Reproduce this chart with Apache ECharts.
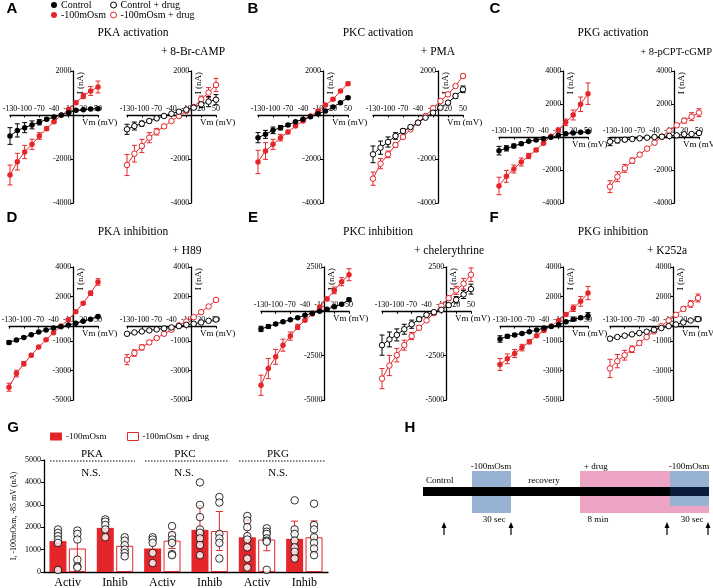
<!DOCTYPE html>
<html><head><meta charset="utf-8">
<script src="https://cdn.jsdelivr.net/npm/echarts@6/dist/echarts.min.js"></script>
<style>html,body{margin:0;padding:0;background:#fff}#c{width:713px;height:588px}</style>
</head><body><div id="c"></div>
<script>
// ---------- DATA ----------
const voltages = [-130,-115,-100,-85,-70,-55,-40,-25,-10,5,20,35,50];

// A: PKA activation (+ 8-Br-cAMP)
const A_ctrl = [-955,-700,-575,-450,-330,-197,-90,0,105,212,242,273,288];
const A_ctrlErr = [380,300,230,180,120,60,40,30,30,30,30,30,40];
const A_osm = [-2727,-2121,-1682,-1333,-955,-621,-303,-15,258,561,864,1091,1273];
const A_osmErr = [450,380,300,230,150,80,50,40,40,60,120,200,270];
const A_ctrlDrug = [-650,-500,-394,-273,-152,-45,60,150,240,333,485,606,697];
const A_ctrlDrugErr = [230,180,120,80,60,40,30,30,40,80,150,230,230];
const A_osmDrug = [-2273,-1758,-1409,-1030,-758,-515,-273,-45,182,364,712,1015,1364];
const A_osmDrugErr = [480,380,300,230,150,80,50,40,50,80,150,230,300];

// B: PKC activation (+ PMA)
const B_ctrl = [-1030,-879,-697,-576,-455,-303,-197,-76,61,182,364,561,788];
const B_ctrlErr = [230,180,150,100,60,40,30,30,30,30,40,50,60];
const B_osm = [-2136,-1636,-1333,-1030,-773,-500,-273,-45,182,455,712,1091,1424];
const B_osmErr = [530,380,230,150,80,50,40,30,30,40,50,60,80];
const B_ctrlDrug = [-1788,-1485,-1227,-955,-727,-545,-348,-121,106,333,561,864,1167];
const B_ctrlDrugErr = [380,300,230,150,100,60,40,30,30,40,60,100,150];
const B_osmDrug = [-2894,-2212,-1788,-1364,-1000,-652,-348,-45,303,636,939,1318,1773];
const B_osmDrugErr = [300,230,150,100,60,40,30,30,30,40,50,60,80];

// C: PKG activation (+ 8-pCPT-cGMP)
const C_ctrl = [-828,-687,-545,-404,-263,-182,-101,-20,101,202,242,283,323];
const C_ctrlErr = [260,160,120,80,60,40,30,30,30,30,40,50,60];
const C_osm = [-2970,-2384,-1939,-1515,-1152,-788,-384,40,424,889,1333,1980,2626];
const C_osmErr = [530,360,240,240,160,100,60,60,100,200,300,440,650];
const C_ctrlDrug = [-283,-202,-162,-121,-81,-40,0,20,61,101,162,182,242];
const C_ctrlDrugErr = [240,160,120,80,60,40,30,30,30,40,60,80,100];
const C_osmDrug = [-3010,-2404,-1899,-1434,-1071,-707,-343,20,384,707,990,1232,1475];
const C_osmDrugErr = [360,300,240,160,100,60,40,30,40,80,150,240,240];

// D: PKA inhibition (+ H89)
const D_ctrl = [-1101,-944,-764,-584,-404,-270,-135,-45,67,202,337,472,652];
const D_ctrlErr = [120,90,70,50,40,30,30,30,30,30,40,60,90];
const D_osm = [-4135,-3213,-2539,-1978,-1416,-921,-449,0,427,966,1551,2225,2989];
const D_osmErr = [270,220,150,100,80,60,50,40,50,60,100,150,220];
const D_ctrlDrug = [-517,-427,-360,-292,-225,-157,-90,0,90,157,247,360,449];
const D_ctrlDrugErr = [60,50,40,30,30,30,30,30,30,30,40,50,60];
const D_osmDrug = [-2270,-1820,-1438,-1101,-809,-517,-247,45,315,607,944,1326,1775];
const D_osmDrugErr = [340,220,180,120,80,60,40,30,40,50,60,80,100];

// E: PKC inhibition (+ chelerythrine)
const E_ctrl = [-991,-858,-708,-594,-481,-368,-217,-104,9,123,255,406,651];
const E_ctrlErr = [150,100,80,60,50,40,30,30,30,40,60,80,100];
const E_osm = [-4170,-3226,-2566,-1906,-1396,-877,-500,-150,250,700,1180,1670,2066];
const E_osmErr = [570,570,420,340,230,150,80,50,60,100,190,230,340];
const E_ctrlDrug = [-1906,-1585,-1330,-1009,-726,-443,-198,-47,85,349,651,953,1255];
const E_ctrlDrugErr = [570,420,340,280,230,120,60,40,50,100,180,230,280];
const E_osmDrug = [-3792,-3057,-2472,-1906,-1396,-925,-509,-104,311,745,1179,1557,2066];
const E_osmDrugErr = [570,570,380,280,200,120,60,40,60,120,230,300,380];

// F: PKG inhibition (+ K252a)
const F_ctrl = [-872,-694,-604,-492,-380,-268,-134,-22,89,291,470,559,694];
const F_ctrlErr = [220,120,100,60,40,30,30,30,30,40,60,100,220];
const F_osm = [-2595,-2215,-1857,-1454,-1051,-649,-291,0,380,783,1208,1678,2237];
const F_osmErr = [400,330,270,220,150,80,50,40,50,100,220,330,450];
const F_ctrlDrug = [-850,-738,-649,-559,-470,-380,-246,-134,0,112,246,380,470];
const F_ctrlDrugErr = [100,60,50,40,30,30,30,30,30,30,40,50,60];
const F_osmDrug = [-2864,-2371,-1969,-1566,-1141,-738,-358,0,380,761,1163,1499,1902];
const F_osmDrugErr = [620,450,330,220,150,100,60,40,50,80,150,220,270];

// G: bar chart
const gCategories = ['Activ','Inhib','Activ','Inhib','Activ','Inhib'];
const gGroups = ['PKA','PKC','PKG'];
const gMeans = [1380,1970,1050,1880,1550,1480];
const gSD = [450,220,450,1070,750,790];
const gMeansDrug = [1050,1170,1400,1830,1450,1550];
const gSDDrug = [700,280,350,870,500,730];
const gPoints = [
  [1900,1750,1600,1450,1300,90],
  [2350,2250,2100,1900,1550],
  [1550,1450,1300,850,400],
  [4000,3000,2450,1900,1750,1500,1200,750],
  [2500,2300,2000,1600,1450,1100,600,200],
  [3200,1900,1700,1400,1100,900,600]
];
const gPointsDrug = [
  [1850,1700,1450,550,250,200],
  [1550,1400,1200,1000,850,700],
  [2050,1650,1450,1300,800,750],
  [3350,3100,1700,1500,1300,600],
  [1950,1800,1700,1500,1400,1350,100],
  [3050,2100,1900,1550,1300,1050,750]
];

// H: protocol schematic (schematic time units)
const hRecording = [[0,247],[247,286]];
const hOsmWindows = [[49,88],[247,286]];
const hDrugWindows = [[157,286]];
const hArrowTimes = [21,88,244,285];

// ---------- STYLE / LAYOUT ----------
const RED = '#e4262b';
const SERIF = '"Liberation Serif","Times New Roman",serif';
const SANS = '"Liberation Sans",Arial,sans-serif';
const X_MIN = -130, X_MAX = 50;

const yScales = {
  AB: {min:-4000,max:2000,interval:2000},
  C: {min:-4000,max:4000,interval:2000},
  DF: {min:-5000,max:4000,custom:[4000,2000,-1000,-3000,-5000]},
  E: {min:-5000,max:2500,interval:2500}
};
const ivPanels = [
  {top:71,bottom:203,L:[10,98],R:[127,216],y:yScales.AB,d:[A_ctrl,A_ctrlErr,A_osm,A_osmErr,A_ctrlDrug,A_ctrlDrugErr,A_osmDrug,A_osmDrugErr]},
  {top:71,bottom:203,L:[258,348],R:[373,463],y:yScales.AB,d:[B_ctrl,B_ctrlErr,B_osm,B_osmErr,B_ctrlDrug,B_ctrlDrugErr,B_osmDrug,B_osmDrugErr]},
  {top:71,bottom:203,L:[499,588],R:[610,699],y:yScales.C,d:[C_ctrl,C_ctrlErr,C_osm,C_osmErr,C_ctrlDrug,C_ctrlDrugErr,C_osmDrug,C_osmDrugErr]},
  {top:267,bottom:400,L:[9,98],R:[127,216],y:yScales.DF,d:[D_ctrl,D_ctrlErr,D_osm,D_osmErr,D_ctrlDrug,D_ctrlDrugErr,D_osmDrug,D_osmDrugErr]},
  {top:267,bottom:400,L:[261,349],R:[382,471],y:yScales.E,d:[E_ctrl,E_ctrlErr,E_osm,E_osmErr,E_ctrlDrug,E_ctrlDrugErr,E_osmDrug,E_osmDrugErr]},
  {top:267,bottom:400,L:[500,588],R:[610,698],y:yScales.DF,d:[F_ctrl,F_ctrlErr,F_osm,F_osmErr,F_ctrlDrug,F_ctrlDrugErr,F_osmDrug,F_osmDrugErr]}
];

const grids = [], xAxes = [], yAxes = [], series = [];

function errRender(color, cap) {
  return function (params, api) {
    const x = api.value(0), y = api.value(1), e = api.value(2);
    const hi = api.coord([x, y + e]), lo = api.coord([x, y - e]);
    const st = {stroke: color, lineWidth: 1, fill: null};
    return {type: 'group', children: [
      {type: 'line', shape: {x1: hi[0], y1: hi[1], x2: lo[0], y2: lo[1]}, style: st},
      {type: 'line', shape: {x1: hi[0] - cap, y1: hi[1], x2: hi[0] + cap, y2: hi[1]}, style: st},
      {type: 'line', shape: {x1: lo[0] - cap, y1: lo[1], x2: lo[0] + cap, y2: lo[1]}, style: st}
    ]};
  };
}

function addIV(gi, x0, x1, top, bottom, ys, ctrl, ctrlErr, osm, osmErr, drug) {
  const w = x1 - x0, h = bottom - top;
  grids.push({left: x0, top: top, width: w, height: h, containLabel: false, outerBoundsMode: 'none'});
  // axes cross at the origin: shift each axis from the grid edge to the zero of the other scale
  const xOffset = -h * (0 - ys.min) / (ys.max - ys.min);
  const yOffset = -w * (0 - X_MIN) / (X_MAX - X_MIN);
  xAxes.push({gridIndex: gi, type: 'value', min: X_MIN, max: X_MAX, interval: 30, position: 'bottom', offset: xOffset,
    axisLine: {onZero: false, lineStyle: {color: '#000', width: 1.3}},
    axisTick: {show: true, length: 2.5, lineStyle: {color: '#000'}},
    axisLabel: {inside: true, margin: 2, fontSize: 8, fontFamily: SERIF, color: '#000', showMinLabel: true, showMaxLabel: true,
      formatter: v => String(v)},
    splitLine: {show: false},
    name: 'Vm (mV)', nameLocation: 'end', nameGap: -16, nameMoveOverlap: false,
    nameTextStyle: {fontSize: 9, fontFamily: SERIF, color: '#000', align: 'left', verticalAlign: 'top', padding: [3, 0, 0, 0]}
  });
  const ya = {gridIndex: gi, type: 'value', min: ys.min, max: ys.max, position: 'left', offset: yOffset,
    axisLine: {onZero: false, lineStyle: {color: '#000', width: 1.3}},
    axisTick: {show: true, length: 3, lineStyle: {color: '#000'}},
    axisLabel: {margin: 2, fontSize: 8, fontFamily: SERIF, color: '#000', showMinLabel: true, showMaxLabel: true,
      formatter: v => (v === 0 ? '' : String(v))},
    splitLine: {show: false},
    name: 'I (nA)', nameLocation: 'end', nameGap: -1, nameRotate: 90, nameMoveOverlap: false,
    nameTextStyle: {fontSize: 9, fontFamily: SERIF, color: '#000', align: 'right', verticalAlign: 'top', padding: [3, 0, 0, 0]}
  };
  if (ys.custom) { ya.axisLabel.customValues = ys.custom; ya.axisTick.customValues = ys.custom; }
  else ya.interval = ys.interval;
  yAxes.push(ya);
  const sets = [[osm, osmErr, RED, drug ? '-100mOsm + drug' : '-100mOsm'], [ctrl, ctrlErr, '#000', drug ? 'Control + drug' : 'Control']];
  sets.forEach(([vals, errs, col, nm]) => {
    series.push({type: 'custom', xAxisIndex: gi, yAxisIndex: gi, silent: true, z: 2,
      encode: {x: 0, y: 1},
      data: voltages.map((v, k) => [v, vals[k], errs[k]]),
      renderItem: errRender(col, 2.5)});
    series.push({type: 'line', name: nm, xAxisIndex: gi, yAxisIndex: gi, z: 3,
      data: voltages.map((v, k) => [v, vals[k]]),
      symbol: 'circle', symbolSize: drug ? 5.5 : 5.5,
      lineStyle: {color: col, width: 1},
      itemStyle: drug ? {color: '#fff', borderColor: col, borderWidth: 1} : {color: col, borderWidth: 0},
      emphasis: {disabled: true}, animation: false});
  });
}

let gi = 0;
ivPanels.forEach(p => {
  const d = p.d;
  addIV(gi++, p.L[0], p.L[1], p.top, p.bottom, p.y, d[0], d[1], d[2], d[3], false);
  addIV(gi++, p.R[0], p.R[1], p.top, p.bottom, p.y, d[4], d[5], d[6], d[7], true);
});

// ---------- G ----------
const gIdx = gi++;
const off = 0.205;
grids.push({left: 44, top: 460, width: 284, height: 112, containLabel: false, outerBoundsMode: 'none'});
xAxes.push({gridIndex: gIdx, type: 'value', min: 0, max: 6,
  axisLine: {show: true, onZero: false, lineStyle: {color: '#000', width: 1.3}},
  axisTick: {show: false}, splitLine: {show: false},
  axisLabel: {customValues: gCategories.map((c, i) => i + 0.5), formatter: v => gCategories[Math.round(v - 0.5)],
    fontSize: 12, fontFamily: SERIF, color: '#000', margin: 5}
});
yAxes.push({gridIndex: gIdx, type: 'value', min: 0, max: 5000, interval: 1000,
  axisLine: {show: true, onZero: false, lineStyle: {color: '#000', width: 1.3}},
  axisTick: {show: true, length: 3, lineStyle: {color: '#000'}},
  axisLabel: {fontSize: 8, fontFamily: SERIF, color: '#000', margin: 3, formatter: v => String(v)},
  splitLine: {show: false},
  name: 'I, -100mOsm, -85 mV (nA)', nameLocation: 'middle', nameGap: 26, nameMoveOverlap: false,
  nameTextStyle: {fontSize: 8, fontFamily: SERIF, color: '#000'}
});
series.push({type: 'bar', name: '-100mOsm', xAxisIndex: gIdx, yAxisIndex: gIdx, barWidth: 17,
  data: gMeans.map((m, i) => [i + 0.5 - off, m]), itemStyle: {color: RED}, z: 2, animation: false});
series.push({type: 'bar', name: '-100mOsm + drug', xAxisIndex: gIdx, yAxisIndex: gIdx, barWidth: 17, barGap: '-100%',
  data: gMeansDrug.map((m, i) => [i + 0.5 + off, m]), itemStyle: {color: '#fff', borderColor: RED, borderWidth: 1}, z: 2, animation: false});
series.push({type: 'custom', xAxisIndex: gIdx, yAxisIndex: gIdx, silent: true, z: 3, encode: {x: 0, y: 1},
  data: gMeans.map((m, i) => [i + 0.5 - off, m, gSD[i]]).concat(gMeansDrug.map((m, i) => [i + 0.5 + off, m, gSDDrug[i]])),
  renderItem: errRender(RED, 3.5)});
const dots = [];
gPoints.forEach((arr, i) => arr.forEach(v => dots.push([i + 0.5 - off, v])));
gPointsDrug.forEach((arr, i) => arr.forEach(v => dots.push([i + 0.5 + off, v])));
series.push({type: 'scatter', xAxisIndex: gIdx, yAxisIndex: gIdx, z: 4, data: dots,
  symbol: 'circle', symbolSize: 7.5, itemStyle: {color: '#fff', borderColor: '#000', borderWidth: 1}, silent: true, animation: false});

// ---------- H ----------
const hIdx = gi++;
grids.push({left: 423, top: 471, width: 286, height: 42, containLabel: false, outerBoundsMode: 'none'});
xAxes.push({gridIndex: hIdx, type: 'value', min: 0, max: 286, show: false});
yAxes.push({gridIndex: hIdx, type: 'value', min: 0, max: 42, inverse: true, show: false});
function rectSeries(data, colorFn, yTopFn, yBotFn, z) {
  return {type: 'custom', xAxisIndex: hIdx, yAxisIndex: hIdx, silent: true, z: z, clip: false,
    data: data.map((w, i) => [w[0], w[1], i]),
    renderItem: (params, api) => {
      const i = api.value(2);
      const p0 = api.coord([api.value(0), yTopFn(i)]);
      const p1 = api.coord([api.value(1), yBotFn(i)]);
      return {type: 'rect', shape: {x: p0[0], y: p0[1], width: p1[0] - p0[0], height: p1[1] - p0[1]}, style: {fill: colorFn(i)}};
    }};
}
series.push(rectSeries(hDrugWindows, () => '#eba4c4', () => 0, () => 42, 1));
series.push(rectSeries(hOsmWindows, () => '#98b2d3', () => 0, i => (i === 1 ? 35 : 42), 2));
series.push(rectSeries(hRecording, i => (i === 1 ? '#0c1c3c' : '#000'), () => 16, () => 25, 3));
series.push({type: 'custom', xAxisIndex: hIdx, yAxisIndex: hIdx, silent: true, z: 3, clip: false,
  data: hArrowTimes.map(t => [t]),
  renderItem: (params, api) => {
    const top = api.coord([api.value(0), 51]), bot = api.coord([api.value(0), 64]);
    return {type: 'group', children: [
      {type: 'line', shape: {x1: top[0], y1: top[1] + 3, x2: bot[0], y2: bot[1]}, style: {stroke: '#000', lineWidth: 1.2}},
      {type: 'polygon', shape: {points: [[top[0], top[1]], [top[0] - 2.5, top[1] + 6], [top[0] + 2.5, top[1] + 6]]}, style: {fill: '#000'}}
    ]};
  }});

// ---------- annotations ----------
function txt(t, x, y, size, opts) {
  opts = opts || {};
  return {type: 'text', x: x, y: y, silent: true, z: 10,
    style: {text: t, font: (opts.bold ? 'bold ' : '') + size + 'px ' + (opts.sans ? SANS : SERIF), fill: '#000',
      textAlign: opts.align || 'center', textVerticalAlign: 'middle', align: opts.align || 'center', verticalAlign: 'middle'}};
}
const graphics = [
  txt('A', 12, 9, 15, {bold: true, sans: true}), txt('B', 253, 9, 15, {bold: true, sans: true}), txt('C', 495, 9, 15, {bold: true, sans: true}),
  txt('D', 12, 218, 15, {bold: true, sans: true}), txt('E', 253, 218, 15, {bold: true, sans: true}), txt('F', 494, 218, 15, {bold: true, sans: true}),
  txt('G', 13, 428, 15, {bold: true, sans: true}), txt('H', 410, 428, 15, {bold: true, sans: true}),
  txt('PKA activation', 133, 33, 11.5), txt('+ 8-Br-cAMP', 193, 52, 11.5),
  txt('PKC activation', 378, 33, 11.5), txt('+ PMA', 438, 52, 11.5),
  txt('PKG activation', 613, 33, 11.5), txt('+ 8-pCPT-cGMP', 712, 52, 10.5, {align: 'right'}),
  txt('PKA inhibition', 133, 232, 11.5), txt('+ H89', 187, 251, 11.5),
  txt('PKC inhibition', 378, 232, 11.5), txt('+ chelerythrine', 449, 251, 11.5),
  txt('PKG inhibition', 613, 232, 11.5), txt('+ K252a', 667, 251, 11.5),
  // G annotations
  txt(gGroups[0], 92, 454, 11), txt(gGroups[1], 185, 454, 11), txt(gGroups[2], 278, 454, 11),
  txt('N.S.', 91, 473, 11), txt('N.S.', 184, 473, 11), txt('N.S.', 278, 473, 11),
  {type: 'line', silent: true, shape: {x1: 50, y1: 461, x2: 135, y2: 461}, style: {stroke: '#000', lineWidth: 1, lineDash: [1.5, 1.5]}},
  {type: 'line', silent: true, shape: {x1: 145, y1: 461, x2: 228, y2: 461}, style: {stroke: '#000', lineWidth: 1, lineDash: [1.5, 1.5]}},
  {type: 'line', silent: true, shape: {x1: 239, y1: 461, x2: 325, y2: 461}, style: {stroke: '#000', lineWidth: 1, lineDash: [1.5, 1.5]}},
  // H annotations
  txt('Control', 426, 481, 9, {align: 'left'}), txt('-100mOsm', 491, 467, 9), txt('recovery', 544, 481, 9),
  txt('+ drug', 584, 467, 9, {align: 'left'}), txt('-100mOsm', 689, 467, 9),
  txt('30 sec', 494, 520, 9), txt('8 min', 598, 520, 9), txt('30 sec', 692, 520, 9)
];

function leg(name, left, top, itemStyle, w, h, size, icon) {
  return {left: left, top: top, orient: 'horizontal', selectedMode: false, itemWidth: w || 6, itemHeight: h || 6, itemGap: 4,
    padding: 0, data: [{name: name, icon: icon || 'circle', itemStyle: itemStyle}],
    textStyle: {fontFamily: SERIF, fontSize: size || 10, color: '#000', padding: [0, 0, 0, -1]}};
}
const legends = [
  leg('Control', 51, 0, {color: '#000', borderWidth: 0}),
  leg('Control + drug', 110, 0, {color: '#fff', borderColor: '#000', borderWidth: 1}),
  leg('-100mOsm', 51, 10, {color: RED, borderWidth: 0}),
  leg('-100mOsm + drug', 110, 10, {color: '#fff', borderColor: RED, borderWidth: 1}),
  leg('-100mOsm', 50, 432, {color: RED, borderWidth: 0}, 12, 8, 9, 'rect'),
  leg('-100mOsm + drug', 127, 432, {color: '#fff', borderColor: RED, borderWidth: 1}, 11, 8, 9, 'rect')
];

const chart = echarts.init(document.getElementById('c'), null, {renderer: 'canvas'});
chart.setOption({
  animation: false,
  backgroundColor: '#fff',
  grid: grids, xAxis: xAxes, yAxis: yAxes, series: series,
  legend: legends, graphic: graphics, tooltip: {show: false}
});
</script></body></html>
